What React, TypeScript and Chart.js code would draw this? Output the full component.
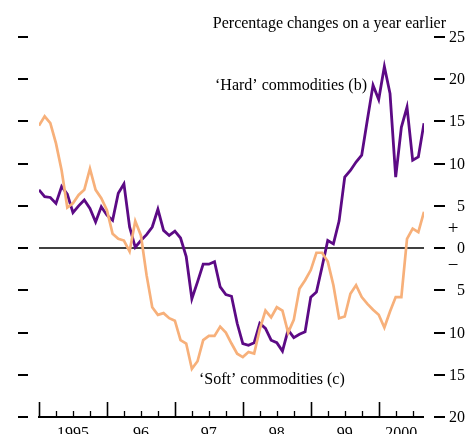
import React, { useEffect, useRef } from "react";
import { Chart, registerables } from "chart.js";

Chart.register(...registerables);

// Monthly observations, Jan 1995 (index 0) to Sep 2000 (index 68)
const hardCommodities = [
  6.9, 6.1, 6.0, 5.3, 7.3, 6.4, 4.2, 5.0, 5.7, 4.7, 3.1, 4.9,
  3.9, 3.3, 6.5, 7.6, 2.5, 0.1, 0.9, 1.6, 2.5, 4.6, 2.1, 1.5,
  2.0, 1.2, -1.0, -6.0, -4.0, -1.9, -1.9, -1.6, -4.6, -5.5, -5.7, -8.9,
  -11.3, -11.5, -11.2, -8.9, -9.5, -10.9, -11.2, -12.2, -9.7, -10.6, -10.2, -9.9,
  -5.8, -5.2, -2.2, 0.9, 0.5, 3.2, 8.4, 9.2, 10.2, 11.0, 15.2, 19.3,
  17.6, 21.5, 18.3, 8.4, 14.3, 16.7, 10.4, 10.8, 14.8,
];

const softCommodities = [
  14.5, 15.6, 14.8, 12.4, 9.2, 4.8, 5.3, 6.3, 6.9, 9.4, 6.9, 5.9,
  4.5, 1.7, 1.1, 0.9, -0.4, 3.2, 1.5, -3.2, -7.0, -7.9, -7.7, -8.3,
  -8.6, -10.9, -11.3, -14.3, -13.4, -10.9, -10.4, -10.4, -9.3, -10.0, -11.3, -12.5,
  -12.9, -12.3, -12.5, -9.6, -7.4, -8.2, -7.0, -7.4, -10.0, -8.5, -4.8, -3.8,
  -2.6, -0.55, -0.55, -1.6, -4.4, -8.3, -8.1, -5.4, -4.4, -5.8, -6.6, -7.3,
  -7.9, -9.4, -7.5, -5.8, -5.8, 1.1, 2.3, 1.9, 4.3,
];

const yearLabels = ["1995", "96", "97", "98", "99", "2000"];
const yearStarts = [0, 12, 24, 36, 48, 60];
const quarterTicks = [3, 6, 9, 15, 18, 21, 27, 30, 33, 39, 42, 45, 51, 54, 57, 63, 66];
const yTickValues = [25, 20, 15, 10, 5, 0, -5, -10, -15, -20];
const lastMonth = 68;

const FONT = '16px "Liberation Serif", "Times New Roman", serif';
const SIGN_FONT = '19px "Liberation Serif", "Times New Roman", serif';
const PURPLE = "#5C0A85";
const ORANGE = "#F7B07A";

export default function App() {
  const ref = useRef<HTMLCanvasElement | null>(null);

  useEffect(() => {
    document.body.style.margin = "0";
    const canvas = ref.current;
    if (!canvas) return;

    const decor = {
      id: "decor",
      beforeDatasetsDraw(chart: any) {
        const ctx = chart.ctx;
        const xs = chart.scales.x;
        const ys = chart.scales.y;
        ctx.save();
        ctx.strokeStyle = "#000";
        ctx.lineWidth = 1.5;
        const y0 = Math.round(ys.getPixelForValue(0));
        ctx.beginPath();
        ctx.moveTo(xs.getPixelForValue(0), y0);
        ctx.lineTo(xs.getPixelForValue(lastMonth), y0);
        ctx.stroke();
        ctx.restore();
      },
      afterDraw(chart: any) {
        const ctx = chart.ctx;
        const xs = chart.scales.x;
        const ys = chart.scales.y;
        ctx.save();
        ctx.strokeStyle = "#000";
        ctx.fillStyle = "#000";
        ctx.lineWidth = 2;

        // x axis base line
        const yb = Math.round(ys.getPixelForValue(-20));
        ctx.beginPath();
        ctx.moveTo(xs.getPixelForValue(0) - 1, yb);
        ctx.lineTo(xs.getPixelForValue(lastMonth), yb);
        ctx.stroke();

        // year ticks (up)
        ctx.lineWidth = 1.6;
        yearStarts.forEach((m) => {
          const x = Math.round(xs.getPixelForValue(m)) + 0.5;
          ctx.beginPath();
          ctx.moveTo(x, yb);
          ctx.lineTo(x, yb - 15);
          ctx.stroke();
        });
        ctx.lineWidth = 1.3;
        quarterTicks.forEach((m) => {
          const x = Math.round(xs.getPixelForValue(m)) + 0.5;
          ctx.beginPath();
          ctx.moveTo(x, yb);
          ctx.lineTo(x, yb - 6);
          ctx.stroke();
        });

        // y dashes on both sides + right labels
        ctx.lineWidth = 2;
        ctx.font = FONT;
        ctx.textAlign = "right";
        ctx.textBaseline = "middle";
        yTickValues.forEach((v) => {
          const y = Math.round(ys.getPixelForValue(v));
          ctx.beginPath();
          ctx.moveTo(18, y);
          ctx.lineTo(28, y);
          ctx.moveTo(434, y);
          ctx.lineTo(445, y);
          ctx.stroke();
          ctx.fillText(String(Math.abs(v)), 465, y + 1);
        });

        // + / - signs
        ctx.font = SIGN_FONT;
        ctx.textAlign = "center";
        const yz = ys.getPixelForValue(0);
        ctx.fillText("+", 453, yz - 19);
        ctx.fillText("\u2212", 453, yz + 18);

        // year labels
        ctx.font = FONT;
        ctx.textBaseline = "alphabetic";
        yearStarts.forEach((m, i) => {
          const end = Math.min(m + 12, lastMonth);
          const x = xs.getPixelForValue((m + end) / 2);
          ctx.fillText(yearLabels[i], x, 438);
        });

        // annotations
        ctx.textBaseline = "middle";
        ctx.textAlign = "right";
        ctx.fillText("Percentage changes on a year earlier", 446, 24);
        ctx.textAlign = "left";
        ctx.fillText("\u2018Hard\u2019 commodities (b)", 215, 86);
        ctx.fillText("\u2018Soft\u2019 commodities (c)", 199, 380);
        ctx.restore();
      },
    };

    const chart = new Chart(canvas, {
      type: "line",
      data: {
        datasets: [
          {
            label: "Soft commodities",
            data: softCommodities.map((v, i) => ({ x: i, y: v })),
            borderColor: ORANGE,
            borderWidth: 2.7,
            pointRadius: 0,
            tension: 0,
          },
          {
            label: "Hard commodities",
            data: hardCommodities.map((v, i) => ({ x: i, y: v })),
            borderColor: PURPLE,
            borderWidth: 2.8,
            pointRadius: 0,
            tension: 0,
          },
        ],
      },
      options: {
        responsive: false,
        animation: false,
        layout: { padding: { left: 39, right: 44, top: 37, bottom: 17 } },
        plugins: { legend: { display: false }, tooltip: { enabled: false } },
        scales: {
          x: { type: "linear", min: 0, max: lastMonth, display: false },
          y: { type: "linear", min: -20, max: 25, display: false },
        },
      },
      plugins: [decor],
    });

    return () => chart.destroy();
  }, []);

  return <canvas ref={ref} width={468} height={434} style={{ display: "block" }} />;
}
